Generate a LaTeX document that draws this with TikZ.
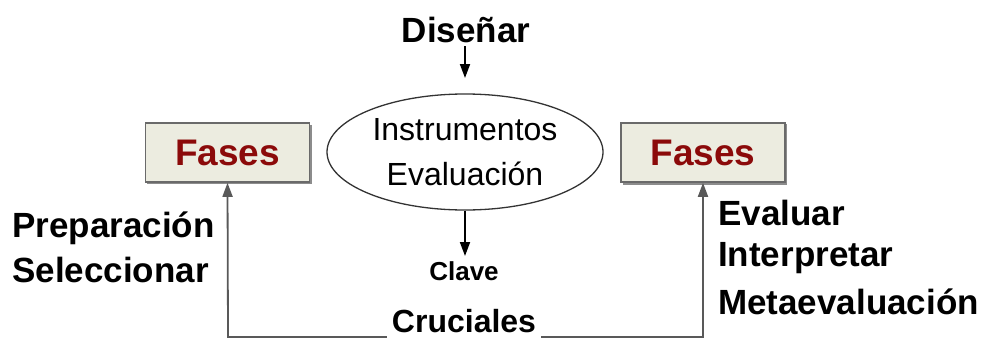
\documentclass[tikz,border=0pt]{standalone}
\usepackage{fontspec}
\setmainfont{Liberation Sans}
\usetikzlibrary{arrows.meta,shapes.geometric}
\definecolor{boxfill}{HTML}{ECECE0}
\definecolor{boxline}{HTML}{6A6A6A}
\definecolor{fasered}{HTML}{8B0A0A}
\begin{document}
\begin{tikzpicture}[x=1pt,y=-1pt,
  fasebox/.style={draw=boxline,line width=1.6pt,fill=boxfill,minimum width=164pt,minimum height=59pt,inner sep=0pt,
     font=\fontsize{37}{40}\selectfont\bfseries,text=fasered},
  lbl/.style={font=\fontsize{35}{40}\selectfont\bfseries,inner sep=0pt},
  arr/.style={line width=1.8pt,-{Triangle[width=10pt,length=14pt]}},
  garr/.style={arr,draw=black!65},
]
\useasboundingbox (0,0) rectangle (988,340);
% boxes
\fill[black!45] (147,125) rectangle (312,184);
\node[fasebox] (fl) at (227.5,152.5) {Fases};
\fill[black!45] (623,124) rectangle (787,185);
\node[fasebox] (fr) at (703,152.5) {Fases};
% ellipse
\node[draw=black!80,line width=1.3pt,ellipse,minimum width=276pt,minimum height=116pt,inner sep=0pt,
  align=center,font=\fontsize{32}{45}\selectfont] (ie) at (465,152) {Instrumentos\\Evaluación};
% top
\node[lbl] (dis) at (466,30) {Diseñar};
\coordinate (dtop) at (465,46);
\coordinate (dend) at (465,78);
\draw[arr] (dtop) -- (dend);
% bottom
\node[font=\fontsize{26}{30}\selectfont\bfseries,inner sep=0pt] (cla) at (464,271) {Clave};
\coordinate (cend) at (465,256);
\draw[arr] (ie.south) -- (cend);
\node[font=\fontsize{32}{36}\selectfont\bfseries,inner sep=5pt] (cru) at (464,321) {Cruciales};
\coordinate (bl) at (228,337);
\coordinate (br) at (703,337);
\draw[garr] (cru.west |- bl) -- (bl) -- (fl.south);
\draw[garr] (cru.east |- br) -- (br) -- (fr.south);
% side texts
\node[lbl,anchor=west] (prep) at (12,228) {Preparación};
\node[lbl,anchor=west] (sel) at (12,270) {Seleccionar};
\node[lbl,anchor=west] (eva) at (718,213) {Evaluar};
\node[lbl,anchor=west] (int) at (718,258) {Interpretar};
\node[lbl,anchor=west] (meta) at (718,302) {Metaevaluación};
\end{tikzpicture}
\end{document}
